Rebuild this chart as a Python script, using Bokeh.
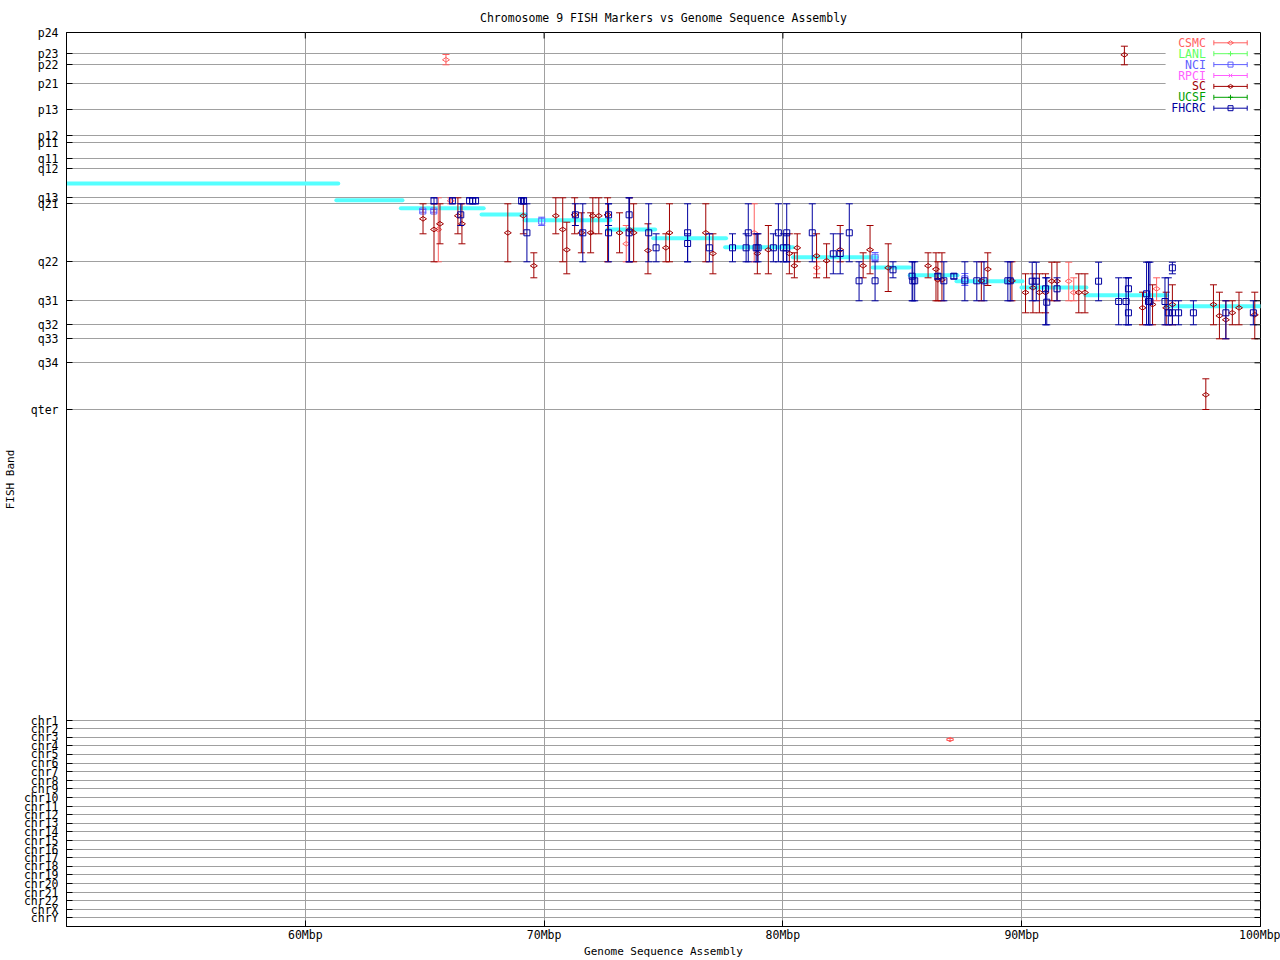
from bokeh.plotting import figure
from bokeh.models import Range1d, FixedTicker, ColumnDataSource
from bokeh.core.properties import value
from bokeh.embed import file_html
from bokeh.resources import INLINE
import math

# ---------------- data ----------------
# FISH band positions (band axis units, top = p24)
band_names = ["p24", "p23", "p22", "p21", "p13", "p12", "p11", "q11", "q12", "q13", "q21",
              "q22", "q31", "q32", "q33", "q34", "qter",
              "chr1", "chr2", "chr3", "chr4", "chr5", "chr6", "chr7", "chr8", "chr9", "chr10",
              "chr11", "chr12", "chr13", "chr14", "chr15", "chr16", "chr17", "chr18", "chr19",
              "chr20", "chr21", "chr22", "chrX", "chrY"]
band_pos = [0.0, 21.3, 32.3, 51.3, 77.3, 103.0, 110.3, 126.3, 136.3, 165.3, 171.3,
            229.3, 268.3, 292.3, 306.3, 330.3, 377.0,
            688.3, 696.3, 704.7, 713.0, 721.7, 730.7, 739.0, 748.0, 756.3, 765.3,
            774.0, 782.3, 790.7, 799.3, 808.3, 817.0, 825.0, 833.7, 842.3,
            851.3, 860.0, 868.3, 877.3, 885.0]
band_axis_end = 894.0

x_ticks = [60, 70, 80, 90, 100]
x_tick_labels = ["60Mbp", "70Mbp", "80Mbp", "90Mbp", "100Mbp"]
x_grid = [60, 70, 80, 90]

# Genome sequence assembly contigs (cyan)
asm_start = [50.0, 61.30, 64.00, 67.38, 69.18, 72.65, 74.57, 77.58, 80.42, 83.76, 85.31, 87.27, 89.99, 92.67, 96.05]
asm_end = [61.38, 64.07, 67.47, 69.22, 72.77, 74.65, 77.62, 80.42, 83.93, 85.31, 87.31, 90.03, 92.71, 96.09, 100.1]
asm_band = [151.0, 167.7, 175.7, 182.0, 187.7, 197.0, 205.7, 214.7, 224.7, 235.0, 242.7, 248.7, 255.0, 262.7, 273.7]

# CSMC
csmc_pos = [65.89, 65.57, 66.09, 73.44, 78.80, 81.42, 91.97, 92.18, 95.65, 87.00]
csmc_band = [27.3, 197.0, 168.3, 211.3, 200.3, 235.3, 248.7, 260.0, 256.3, 707.0]
csmc_lo = [22.0, 165.3, 165.3, 193.0, 171.3, 229.3, 229.7, 245.3, 245.3, 706.0]
csmc_hi = [32.3, 229.3, 171.3, 229.3, 229.3, 241.3, 268.3, 268.3, 268.3, 708.0]

# LANL (no markers in view)
lanl_pos, lanl_band, lanl_lo, lanl_hi = [], [], [], []

# NCI
nci_pos = [64.92, 65.38, 69.90, 83.86, 87.62]
nci_band = [178.5, 178.5, 188.7, 224.7, 246.3]
nci_lo = [177.0, 177.0, 184.7, 220.0, 241.0]
nci_hi = [179.7, 179.7, 193.0, 227.7, 253.0]

# RPCI (no markers in view)
rpci_pos, rpci_band, rpci_lo, rpci_hi = [], [], [], []

# SC
sc_pos = [64.93, 65.39, 65.64, 66.39, 66.56, 68.48, 69.13, 69.57, 70.49, 70.78,
          70.95, 71.28, 71.56, 71.95, 72.04, 72.29, 72.66, 73.16, 73.58, 73.75,
          74.35, 75.10, 75.25, 76.77, 77.07, 78.93, 79.39, 80.27, 80.48, 80.60,
          81.41, 81.83, 82.40, 83.36, 83.65, 84.41, 86.08, 86.41, 86.49, 86.66,
          88.31, 88.58, 89.59, 90.16, 90.47, 90.74, 91.00, 91.26, 91.48, 92.39,
          92.65, 95.06, 95.48, 96.05, 96.31, 98.03, 98.28, 98.55, 98.82, 99.10,
          99.76, 97.71, 94.30]
sc_band = [186.3, 197.0, 191.3, 183.3, 191.3, 200.3, 183.3, 233.3, 183.3, 197.0,
           217.3, 182.3, 200.3, 200.3, 183.3, 183.3, 182.3, 200.3, 197.3, 200.3,
           218.0, 215.3, 200.3, 200.3, 221.0, 221.0, 217.3, 221.0, 233.3, 215.3,
           223.3, 228.3, 217.3, 233.3, 217.3, 235.3, 233.3, 236.7, 247.3, 247.3,
           248.3, 236.7, 248.3, 260.0, 255.3, 260.0, 260.0, 248.7, 248.7, 260.0,
           260.0, 275.3, 272.0, 275.3, 272.0, 272.0, 283.3, 287.3, 280.3, 275.3,
           282.3, 362.3, 22.3]
sc_lo = [171.3, 171.3, 171.3, 165.3, 171.3, 171.3, 171.3, 220.3, 165.3, 165.3,
         189.7, 165.3, 180.3, 180.3, 165.3, 165.3, 165.3, 180.3, 165.3, 171.3,
         191.3, 201.3, 171.3, 171.3, 201.3, 201.3, 193.0, 201.3, 220.3, 201.3,
         201.3, 211.3, 193.0, 220.3, 193.0, 211.3, 220.3, 220.3, 229.3, 220.3,
         229.3, 220.3, 229.3, 241.3, 241.3, 241.3, 241.3, 229.7, 229.7, 241.3,
         241.3, 259.7, 252.3, 259.7, 252.3, 252.3, 259.7, 268.3, 268.3, 259.7,
         259.7, 346.3, 13.7]
sc_hi = [201.3, 229.3, 211.3, 201.3, 211.3, 229.3, 201.3, 245.3, 201.3, 229.3,
         241.3, 201.3, 220.3, 220.3, 201.3, 201.3, 229.3, 220.3, 229.3, 229.3,
         241.3, 229.3, 229.3, 229.3, 241.3, 241.3, 241.3, 241.3, 245.3, 229.3,
         245.3, 245.3, 229.3, 245.3, 241.3, 259.0, 245.3, 268.3, 268.3, 268.3,
         268.3, 253.0, 268.3, 280.3, 280.3, 280.3, 280.3, 268.3, 268.3, 280.3,
         280.3, 292.3, 292.3, 292.3, 292.3, 292.3, 306.3, 306.3, 292.3, 292.3,
         306.3, 377.0, 32.3]

# UCSF (no markers in view)
ucsf_pos, ucsf_band, ucsf_lo, ucsf_hi = [], [], [], []

# FHCRC
fh_pos = [65.39, 66.16, 66.51, 66.88, 67.01, 67.13, 69.06, 69.14, 69.28, 71.31,
          71.62, 72.70, 72.70, 73.56, 73.56, 74.38, 74.69, 76.01, 76.01, 76.92,
          77.89, 78.46, 78.55, 78.88, 78.96, 79.60, 79.81, 80.02, 80.16, 80.16,
          81.23, 82.11, 82.40, 82.78, 83.19, 83.86, 84.61, 85.41, 85.44, 85.52,
          86.49, 86.74, 87.16, 87.62, 88.12, 88.42, 89.42, 89.52, 90.44, 90.61,
          91.00, 91.05, 91.48, 93.22, 94.06, 94.37, 94.47, 94.47, 95.23, 95.31,
          95.37, 96.00, 96.14, 96.31, 96.31, 96.57, 97.19, 98.55, 99.70]
fh_band = [168.3, 168.3, 182.3, 168.3, 168.3, 168.3, 168.3, 168.3, 200.3, 182.3,
           200.3, 182.3, 200.3, 182.3, 200.3, 200.3, 215.3, 200.3, 211.0, 215.3,
           215.3, 215.3, 200.3, 215.3, 215.3, 215.3, 200.3, 215.3, 215.3, 200.3,
           200.3, 221.3, 221.0, 200.3, 248.3, 248.3, 237.3, 243.7, 248.3, 248.3,
           243.7, 248.3, 243.7, 248.3, 248.3, 248.3, 248.3, 248.3, 248.7, 248.7,
           256.3, 269.7, 256.3, 248.7, 269.0, 269.0, 256.3, 280.3, 261.3, 269.0,
           269.0, 269.0, 280.3, 235.3, 280.3, 280.3, 280.3, 280.3, 280.3]
fh_lo = [165.3, 165.3, 171.3, 165.3, 165.3, 165.3, 165.3, 165.3, 171.3, 171.3,
         171.3, 171.3, 171.3, 165.3, 165.3, 171.3, 201.3, 171.3, 201.3, 201.3,
         201.3, 201.3, 171.3, 201.3, 201.3, 201.3, 171.3, 201.3, 201.3, 171.3,
         171.3, 201.3, 201.3, 171.3, 229.3, 229.3, 229.3, 229.3, 229.3, 229.3,
         241.3, 229.3, 241.3, 229.3, 229.3, 229.3, 229.3, 229.3, 229.7, 229.7,
         245.3, 245.3, 245.3, 229.7, 245.3, 245.3, 245.3, 245.3, 229.7, 229.7,
         229.7, 245.3, 245.3, 229.7, 268.3, 268.3, 268.3, 268.3, 268.3]
fh_hi = [171.3, 171.3, 193.0, 171.3, 171.3, 171.3, 171.3, 171.3, 229.3, 193.0,
         229.3, 193.0, 229.3, 229.3, 229.3, 229.3, 229.3, 229.3, 229.3, 229.3,
         229.3, 229.3, 229.3, 229.3, 229.3, 229.3, 229.3, 229.3, 229.3, 229.3,
         229.3, 241.3, 241.3, 229.3, 268.3, 268.3, 245.3, 268.3, 268.3, 268.3,
         246.3, 268.3, 246.3, 268.3, 268.3, 268.3, 268.3, 268.3, 268.3, 268.3,
         292.3, 292.3, 268.3, 268.3, 292.3, 292.3, 292.3, 292.3, 292.3, 292.3,
         292.3, 292.3, 292.3, 241.3, 292.3, 292.3, 292.3, 306.3, 292.3]

series = [
    ("CSMC", "#ff6060", "diamond", csmc_pos, csmc_band, csmc_lo, csmc_hi),
    ("LANL", "#60ff60", "cross", lanl_pos, lanl_band, lanl_lo, lanl_hi),
    ("NCI", "#6060ff", "square", nci_pos, nci_band, nci_lo, nci_hi),
    ("RPCI", "#ff60ff", "x", rpci_pos, rpci_band, rpci_lo, rpci_hi),
    ("SC", "#a00000", "diamond", sc_pos, sc_band, sc_lo, sc_hi),
    ("UCSF", "#00a000", "cross", ucsf_pos, ucsf_band, ucsf_lo, ucsf_hi),
    ("FHCRC", "#0000a0", "square", fh_pos, fh_band, fh_lo, fh_hi),
]

# ---------------- figure ----------------
FONT = "DejaVu Sans Mono"
FS = "11.5px"
FS_AX = "11px"
X0, X1 = 50, 100
FRAME_W, FRAME_H = 1195, 894
px_x = (X1 - X0) / FRAME_W          # data units per pixel (x)
px_y = band_axis_end / FRAME_H       # data units per pixel (y)

p = figure(width=1280, height=960, output_backend="svg", toolbar_location=None,
           x_range=Range1d(X0, X1), y_range=Range1d(band_axis_end, 0),
           min_border_left=65, min_border_right=20, min_border_top=32, min_border_bottom=34,
           title="Chromosome 9 FISH Markers vs Genome Sequence Assembly")
p.background_fill_color = "white"
p.border_fill_color = "white"
p.outline_line_color = "black"
p.outline_line_width = 1

p.title.align = "center"
p.title.text_font = FONT
p.title.text_font_size = FS
p.title.text_font_style = "normal"
p.title.text_color = "black"
p.title.standoff = 16

xa = p.xaxis[0]
ya = p.yaxis[0]
xa.ticker = FixedTicker(ticks=x_ticks)
xa.major_label_overrides = {v: t for v, t in zip(x_ticks, x_tick_labels)}
ya.ticker = FixedTicker(ticks=band_pos)
ya.major_label_overrides = {v: t for v, t in zip(band_pos, band_names)}
xa.axis_label = "Genome Sequence Assembly"
ya.axis_label = "FISH Band"
for ax in (xa, ya):
    ax.major_tick_in = 6
    ax.major_tick_out = 0
    ax.minor_tick_line_color = None
    ax.major_tick_line_color = "black"
    ax.axis_line_color = "black"
    ax.major_label_text_font = FONT
    ax.major_label_text_font_size = FS
    ax.major_label_text_color = "black"
    ax.axis_label_text_font = FONT
    ax.axis_label_text_font_size = FS_AX
    ax.axis_label_text_font_style = "normal"
    ax.axis_label_text_color = "black"
xa.major_label_standoff = 1
xa.axis_label_standoff = 0
ya.major_label_standoff = 8
ya.axis_label_standoff = 4

p.xgrid.ticker = FixedTicker(ticks=x_grid)
p.ygrid.ticker = FixedTicker(ticks=band_pos)
for g in (p.xgrid, p.ygrid):
    g.grid_line_color = "#a0a0a0"
    g.grid_line_width = 1
    g.grid_line_alpha = 1.0

# assembly contigs
asm_src = ColumnDataSource(dict(x0=asm_start, x1=asm_end, y=asm_band))
p.segment(x0="x0", y0="y", x1="x1", y1="y", source=asm_src,
          line_color="#55ffff", line_width=4, line_cap="round")

# error bars per lab
for name, color, marker, pos, band, lo, hi in series:
    src = ColumnDataSource(dict(x=pos, y=band, lo=lo, hi=hi))
    p.segment(x0="x", y0="lo", x1="x", y1="hi", source=src, line_color=color, line_width=1)
    p.scatter(x="x", y="lo", source=src, marker="dash", size=7, line_color=color, line_width=1)
    p.scatter(x="x", y="hi", source=src, marker="dash", size=7, line_color=color, line_width=1)
    ang = math.pi / 2 if marker == "diamond" else 0.0
    sz = 7 if marker == "diamond" else 6
    p.scatter(x="x", y="y", source=src, marker=marker, size=sz, angle=ang,
              line_color=color, fill_color=None, line_width=1)

# legend (top right, gnuplot style: label then sample)
n = len(series)
row_y = [10.3 + 10.9 * i * px_y for i in range(n)]
txt_x = X1 - 54.7 * px_x
s0 = X1 - 46.7 * px_x
s1 = X1 - 13.3 * px_x
p.quad(left=X1 - 95 * px_x, right=X1 - 7 * px_x, top=4 * px_y, bottom=82 * px_y,
       fill_color="white", line_color=None)
cap = 2.5 * px_y
for (name, color, marker, *_), yy in zip(series, row_y):
    p.text(x=[txt_x], y=[yy], text=[name], text_color=color, text_align="right",
           text_baseline="middle", text_font=value(FONT), text_font_size=FS)
    p.segment(x0=[s0], y0=[yy], x1=[s1], y1=[yy], line_color=color, line_width=1)
    p.segment(x0=[s0, s1], y0=[yy - cap, yy - cap], x1=[s0, s1], y1=[yy + cap, yy + cap],
              line_color=color, line_width=1)
    ang = math.pi / 2 if marker == "diamond" else 0.0
    sz = 6 if marker == "diamond" else 5
    p.scatter(x=[(s0 + s1) / 2], y=[yy], marker=marker, size=sz, angle=ang,
              line_color=color, fill_color=None, line_width=1)

# mirrored tick marks on the right and top borders
tick_len_x = 6 * px_x
tick_len_y = 6 * px_y
p.segment(x0=[X1 - tick_len_x] * len(band_pos), y0=band_pos,
          x1=[X1] * len(band_pos), y1=band_pos, line_color="black", line_width=1)
p.segment(x0=x_grid, y0=[0.0] * len(x_grid), x1=x_grid, y1=[tick_len_y] * len(x_grid),
          line_color="black", line_width=1)

open("out.html", "w").write(file_html(p, INLINE))
